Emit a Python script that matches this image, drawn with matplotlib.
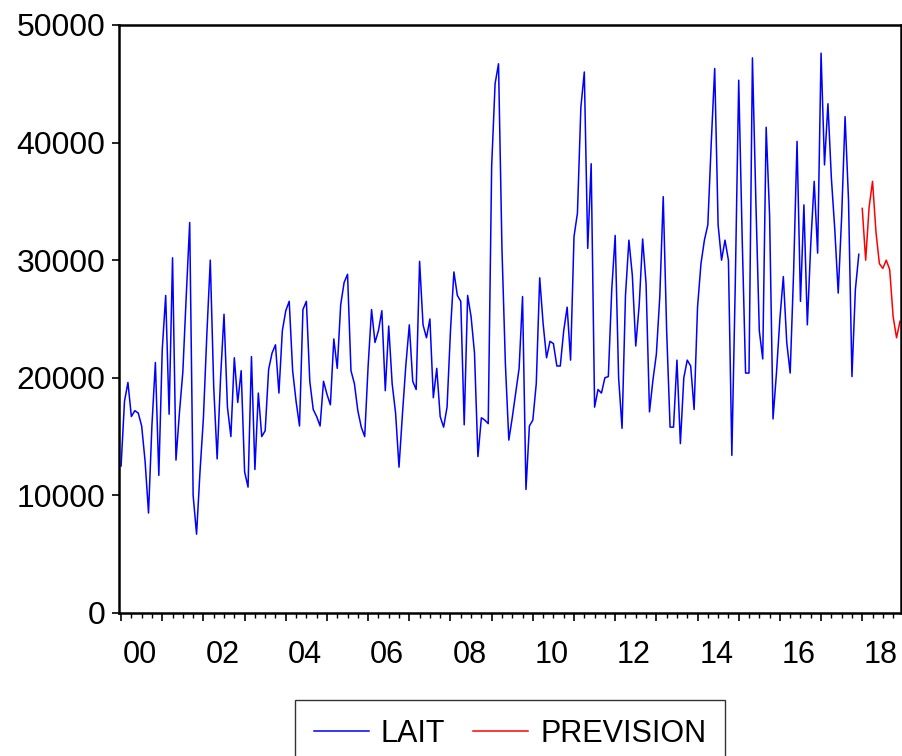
import numpy as np
import matplotlib
matplotlib.use("Agg")
import matplotlib.pyplot as plt
from matplotlib import font_manager

# monthly milk series, 2000M01 - 2017M12
lait = [
    12500, 18000, 19600, 16700, 17200, 17000, 15900, 12900, 8500, 16000, 21300, 11700,
    22400, 27000, 16900, 30200, 13000, 17000, 20500, 27000, 33200, 10000, 6700, 12000,
    16600, 23700, 30000, 19200, 13100, 20000, 25400, 17500, 15000, 21700, 17900, 20600,
    12000, 10700, 21800, 12200, 18700, 15000, 15500, 20700, 22100, 22800, 18700, 24000,
    25700, 26500, 20600, 18000, 15900, 25800, 26500, 19700, 17300, 16700, 15900, 19700,
    18600, 17700, 23300, 20800, 26200, 28100, 28800, 20600, 19500, 17200, 15800, 15000,
    21000, 25800, 23000, 24000, 25700, 18900, 24400, 19500, 17000, 12400, 16900, 21100,
    24500, 19700, 19000, 29900, 24500, 23400, 25000, 18300, 20800, 16700, 15800, 17500,
    24000, 29000, 27000, 26500, 16000, 27000, 25200, 22100, 13300, 16600, 16400, 16100,
    38000, 45000, 46700, 31000, 21200, 14700, 16600, 18700, 20800, 26900, 10500, 15900,
    16400, 19500, 28500, 24600, 21700, 23100, 22900, 21000, 21000, 24000, 26000, 21500,
    32000, 34000, 43000, 46000, 31000, 38200, 17500, 19000, 18700, 20000, 20100, 27500,
    32100, 20000, 15700, 27000, 31700, 28700, 22700, 26200, 31800, 28000, 17100, 19800,
    22000, 26900, 35400, 24000, 15800, 15800, 21500, 14400, 20000, 21500, 21000, 17300,
    26000, 29700, 31700, 33000, 40000, 46300, 33000, 30000, 31700, 30000, 13400, 28000,
    45300, 32000, 20400, 20400, 47200, 35000, 24000, 21600, 41300, 33800, 16500, 20400,
    25000, 28600, 23000, 20400, 29000, 40100, 26500, 34700, 24500, 31400, 36700, 30600,
    47600, 38100, 43300, 37000, 32600, 27200, 33700, 42200, 35100, 20100, 27500, 30500,
]

# forecast, 2018M01 - 2018M12
prevision = [34400, 30000, 34500, 36700, 32400, 29700, 29300, 30000, 29200, 25200, 23400, 24800]

year_labels = ["00", "02", "04", "06", "08", "10", "12", "14", "16", "18"]
y_ticks = [0, 10000, 20000, 30000, 40000, 50000]

names = {f.name for f in font_manager.fontManager.ttflist}
font = "Liberation Sans" if "Liberation Sans" in names else "DejaVu Sans"
plt.rcParams["font.family"] = [font, "DejaVu Sans"]

fig = plt.figure(figsize=(9.03, 7.56), dpi=100)
ax = fig.add_axes([0.1318, 0.1892, 0.8660, 0.7778])

n_lait = len(lait)
x_lait = np.arange(n_lait)
x_prev = np.arange(n_lait, n_lait + len(prevision))

ax.plot(x_lait, lait, color="#0000ff", lw=1.1, label="LAIT")
ax.plot(x_prev, prevision, color="#ff0000", lw=1.1, label="PREVISION")

n_total = n_lait + len(prevision)
ax.set_xlim(-0.6, n_total - 0.7)
ax.set_ylim(0, 50000)

ax.set_yticks(y_ticks)
ax.set_yticklabels([str(v) for v in y_ticks])

# year ticks (long) and quarter ticks (short)
ax.set_xticks(np.arange(0, n_total, 12))
ax.set_xticklabels([])
ax.set_xticks(np.arange(0, n_total, 3), minor=True)
ax.tick_params(axis="x", which="major", length=6, width=1.2, direction="out")
ax.tick_params(axis="x", which="minor", length=3.5, width=1.0, direction="out")
ax.tick_params(axis="y", which="major", length=5, width=1.2, direction="out",
               labelsize=23, pad=5)

for i, lab in enumerate(year_labels):
    xc = 24 * i + 5.5
    ax.text(xc, -0.0714, lab, transform=ax.get_xaxis_transform(),
            ha="center", va="center", fontsize=22)

for sp in ax.spines.values():
    sp.set_linewidth(1.8)
    sp.set_color("black")

leg = fig.legend(loc="upper center", bbox_to_anchor=(0.5648, 0.0741),
                 bbox_transform=fig.transFigure, ncol=2, fontsize=22,
                 frameon=True, fancybox=False, edgecolor="black",
                 handlelength=1.8, handletextpad=0.4, columnspacing=0.9,
                 borderpad=0.62, borderaxespad=0.0)
leg.get_frame().set_linewidth(1.0)

fig.savefig("out.png", dpi=100)
